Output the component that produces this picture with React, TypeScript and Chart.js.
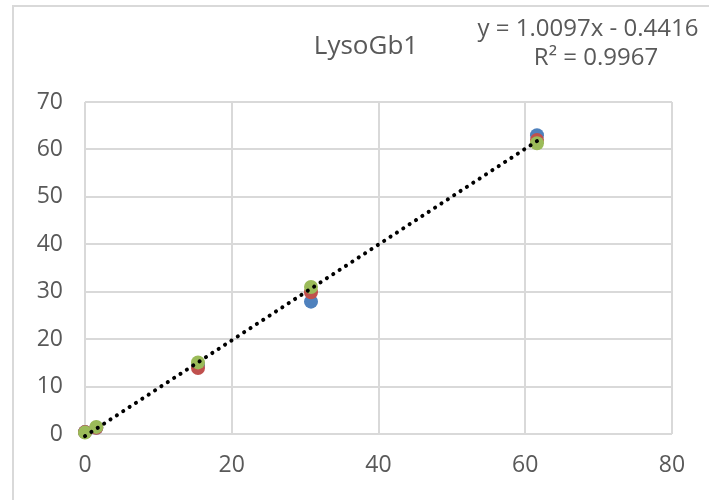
import React, { useEffect, useRef } from "react";
import { Chart, registerables } from "chart.js";

Chart.register(...registerables);

const concentrations = [0, 1.54, 15.4, 30.8, 61.6];
const seriesBlue = [0.4, 1.3, 14.5, 27.9, 63.0];
const seriesRed = [0.4, 1.3, 13.9, 29.9, 62.0];
const seriesGreen = [0.3, 1.5, 15.1, 31.0, 61.3];
const trendSlope = 1.0097;
const trendIntercept = -0.4416;
const trendRange = [0, 61.6];
const titleText = "LysoGb1";
const equationText = "y = 1.0097x - 0.4416";
const r2Text = "R² = 0.9967";

const FONT = "'Open Sans', 'Noto Sans', sans-serif";
const TEXT_COLOR = "#595959";
const GRID_COLOR = "#d9d9d9";

const toPoints = (ys: number[]) => concentrations.map((x, i) => ({ x, y: ys[i] }));

const textPlugin = {
  id: "textPlugin",
  beforeDraw(chart: any) {
    const ctx = chart.ctx;
    ctx.save();
    ctx.strokeStyle = GRID_COLOR;
    ctx.lineWidth = 2;
    ctx.beginPath();
    ctx.moveTo(13, 500);
    ctx.lineTo(13, 6);
    ctx.lineTo(709, 6);
    ctx.stroke();
    ctx.restore();
  },
  afterDraw(chart: any) {
    const ctx = chart.ctx;
    ctx.save();
    ctx.fillStyle = TEXT_COLOR;
    ctx.textAlign = "center";
    ctx.textBaseline = "middle";
    ctx.font = `26px ${FONT}`;
    ctx.fillText(titleText, 366, 47);
    ctx.font = `24px ${FONT}`;
    ctx.fillText(equationText, 588, 29);
    ctx.fillText(r2Text, 596, 58);
    ctx.restore();
  },
};

export default function App() {
  const ref = useRef<HTMLCanvasElement>(null);
  useEffect(() => {
    if (!ref.current) return;
    const pointStyle = { pointRadius: 7, pointHoverRadius: 7, showLine: false, borderWidth: 0, clip: false as any };
    const chart = new Chart(ref.current, {
      type: "scatter",
      data: {
        datasets: [
          {
            type: "line",
            label: "Trend",
            data: trendRange.map((x) => ({ x, y: trendSlope * x + trendIntercept })),
            borderColor: "#000000",
            borderWidth: 4,
            borderDash: [0.1, 7.5],
            borderCapStyle: "round",
            pointRadius: 0,
            fill: false,
            clip: false,
            order: 0,
          } as any,
          { label: "Series 1", data: toPoints(seriesBlue), backgroundColor: "#4F81BD", ...pointStyle, order: 3 },
          { label: "Series 2", data: toPoints(seriesRed), backgroundColor: "#C0504D", ...pointStyle, order: 2 },
          { label: "Series 3", data: toPoints(seriesGreen), backgroundColor: "#9BBB59", ...pointStyle, order: 1 },
        ],
      },
      options: {
        animation: false,
        responsive: false,
        devicePixelRatio: 1,
        layout: { padding: { left: 0, right: 37, top: 102, bottom: 0 } },
        plugins: { legend: { display: false }, tooltip: { enabled: false }, title: { display: false } },
        scales: {
          x: {
            type: "linear",
            min: 0,
            max: 80,
            ticks: { stepSize: 20, color: TEXT_COLOR, font: { family: FONT, size: 23 }, padding: 18 },
            grid: { color: GRID_COLOR, lineWidth: 2, drawTicks: false },
            border: { display: false },
            afterFit: (s: any) => { s.height = 66; },
          },
          y: {
            type: "linear",
            min: 0,
            max: 70,
            ticks: { stepSize: 10, color: TEXT_COLOR, font: { family: FONT, size: 23 }, padding: 22 },
            grid: { color: GRID_COLOR, lineWidth: 2, drawTicks: false },
            border: { display: false },
            afterFit: (s: any) => { s.width = 85; },
          },
        },
      },
      plugins: [textPlugin],
    });
    return () => chart.destroy();
  }, []);
  return (
    <div style={{ position: "fixed", left: 0, top: 0, width: 709, height: 500, background: "#fff" }}>
      <canvas ref={ref} width={709} height={500} style={{ width: 709, height: 500 }} />
    </div>
  );
}
